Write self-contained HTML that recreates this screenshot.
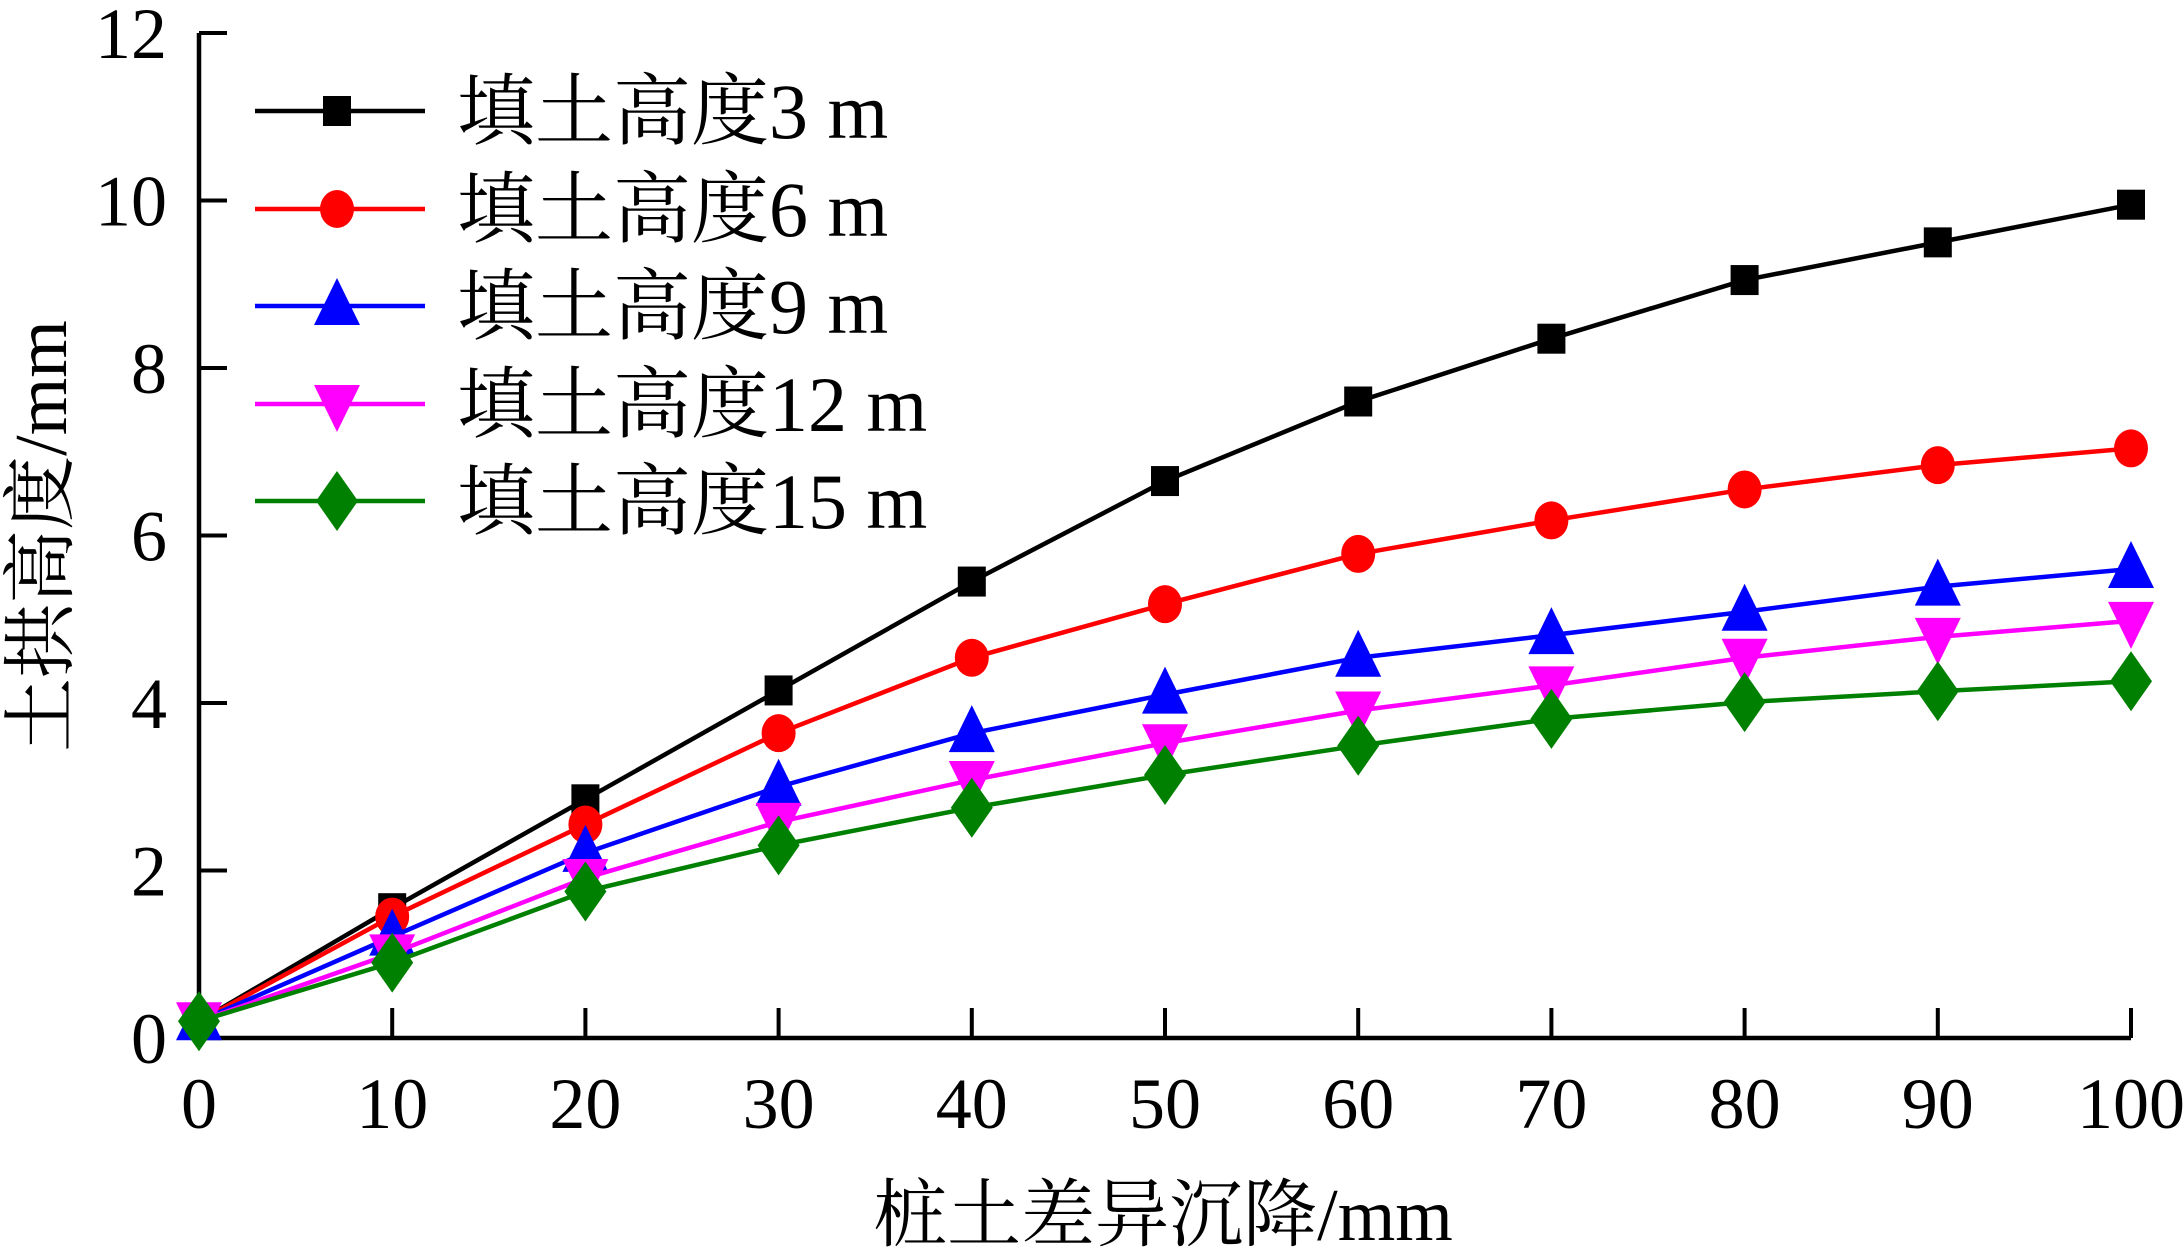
<!DOCTYPE html>
<html><head><meta charset="utf-8">
<style>
html,body{margin:0;padding:0;background:#fff;}
svg{display:block;}
text{font-family:"Liberation Serif","Noto Serif CJK SC","Noto Sans CJK SC",serif;fill:#000;}
</style></head>
<body>
<svg id="chart" width="2184" height="1256" viewBox="0 0 2184 1256" xmlns="http://www.w3.org/2000/svg">
<g id="plot"></g>
</svg>
<script>
const categories = [0,10,20,30,40,50,60,70,80,90,100];
const seriesNames = ["填土高度3 m","填土高度6 m","填土高度9 m","填土高度12 m","填土高度15 m"];
const s3 = [0.2,1.55,2.85,4.15,5.45,6.65,7.6,8.35,9.05,9.5,9.95];
const s6 = [0.2,1.45,2.55,3.64,4.54,5.18,5.78,6.18,6.55,6.84,7.04];
const s9 = [0.2,1.21,2.21,3.0,3.64,4.1,4.54,4.81,5.09,5.39,5.6];
const s12 = [0.2,1.01,1.91,2.58,3.08,3.52,3.91,4.21,4.54,4.79,4.98];
const s15 = [0.2,0.9,1.75,2.3,2.75,3.14,3.49,3.81,4.01,4.14,4.26];
const xTicks = [0,10,20,30,40,50,60,70,80,90,100];
const yTicks = [0,2,4,6,8,10,12];

const NS="http://www.w3.org/2000/svg";
const X0=199,X1=2131,Y0=1038,Y1=33;
function xs(v){return X0+(v-0)/(100-0)*(X1-X0);}
function ys(v){return Y0-(v-0)/(12-0)*(Y0-Y1);}
const g=document.getElementById('plot');
function mk(tag,attrs,parent){const e=document.createElementNS(NS,tag);for(const k in attrs)e.setAttribute(k,attrs[k]);(parent||g).appendChild(e);return e;}

let ax=mk('path',{d:`M${X0} ${Y1}V${Y0}H${X1}`,stroke:'#000','stroke-width':4.5,fill:'none'});


xTicks.forEach(t=>{
  const x=xs(t);
  const tk=mk('line',{x1:x,x2:x,y1:Y0,y2:Y0-30,stroke:'#000','stroke-width':4});
  
  
  const lb=mk('text',{x:x,y:Y0+90,'text-anchor':'middle','font-size':72});
  lb.textContent=t;
  
  
});
yTicks.forEach(t=>{
  const y=ys(t);
  const tk=mk('line',{x1:X0,x2:X0+28,y1:y,y2:y,stroke:'#000','stroke-width':4});
  
  
  const lb=mk('text',{x:167,y:y+25,'text-anchor':'end','font-size':72});
  lb.textContent=t;
  
  
});
const xt=mk('text',{x:1163,y:1240,'text-anchor':'middle','font-size':74});
xt.textContent='桩土差异沉降/mm';


const yt=mk('text',{x:0,y:0,'text-anchor':'middle','font-size':74,transform:'translate(66,536) rotate(-90)'});
yt.textContent='土拱高度/mm';



const colors=['#000000','#ff0000','#0000ff','#ff00ff','#008000'];
const shapes=['square','circle','up','down','diamond'];
const data=[s3,s6,s9,s12,s15];
function marker(shape,x,y,c,parent){
  let e;
  if(shape==='square')e=mk('rect',{x:x-14,y:y-15,width:28,height:30,fill:c},parent);
  else if(shape==='circle')e=mk('ellipse',{cx:x,cy:y,rx:17,ry:19,fill:c},parent);
  else if(shape==='up')e=mk('polygon',{points:`${x},${y-28} ${x-23},${y+19} ${x+23},${y+19}`,fill:c},parent);
  else if(shape==='down')e=mk('polygon',{points:`${x},${y+28} ${x-23},${y-19} ${x+23},${y-19}`,fill:c},parent);
  else e=mk('polygon',{points:`${x},${y-30} ${x+21},${y} ${x},${y+30} ${x-21},${y}`,fill:c},parent);
  return e;
}
data.forEach((arr,i)=>{
  const sg=mk('g',{});
  
  
  const pts=arr.map((v,j)=>xs(categories[j])+','+ys(v)).join(' ');
  const pl=mk('polyline',{points:pts,fill:'none',stroke:colors[i],'stroke-width':4.5},sg);
  
  
  arr.forEach((v,j)=>{
    const m=marker(shapes[i],xs(categories[j]),ys(v),colors[i],sg);
    
    
  });
});
const legY=[111,209,306,404,501];
seriesNames.forEach((n,i)=>{
  const lg=mk('g',{});
  
  
  mk('line',{x1:255,x2:425,y1:legY[i],y2:legY[i],stroke:colors[i],'stroke-width':4.5},lg);
  marker(shapes[i],337,legY[i],colors[i],lg);
  const t=mk('text',{x:457,y:legY[i]+27,'font-size':78},lg);
  t.textContent=n;
});
</script>
</body></html>
